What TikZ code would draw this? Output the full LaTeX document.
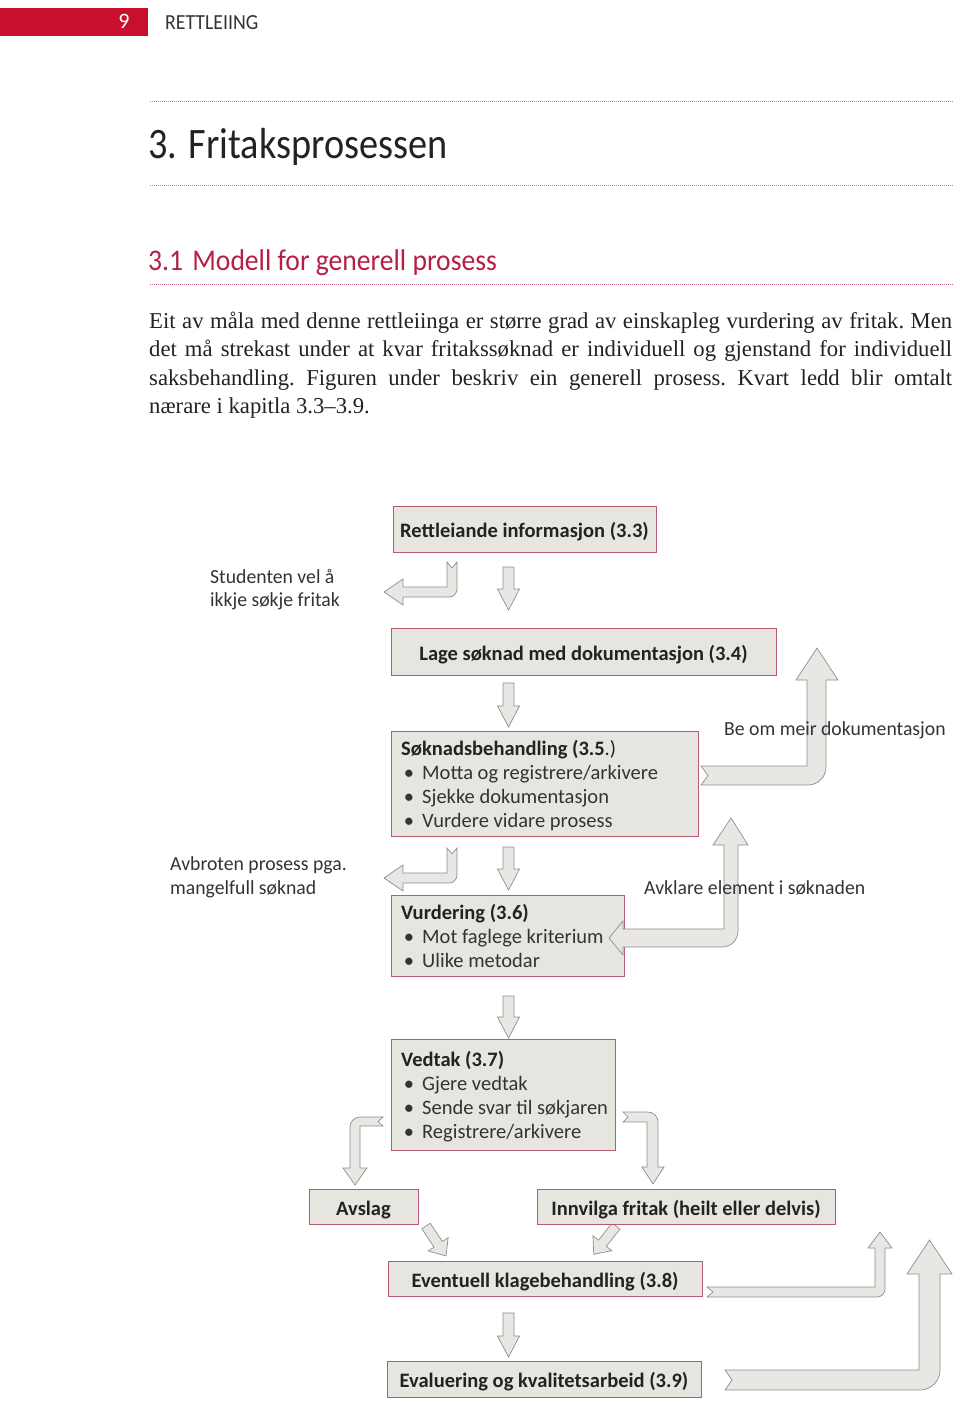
\documentclass[tikz,border=0pt]{standalone}
\usepackage{fontspec}
\setmainfont{Liberation Serif}
\newfontfamily\dfont{Carlito}
\newfontfamily\lfont[FakeStretch=0.985]{Carlito}
\newfontfamily\titlefont[FakeStretch=0.88]{Carlito}
\newfontfamily\headfont[FakeStretch=0.92]{Carlito}
\definecolor{hdrred}{HTML}{C8102E}
\definecolor{headred}{HTML}{B51F45}
\definecolor{boxline}{HTML}{B85B72}
\definecolor{boxfill}{HTML}{E7E5E0}
\definecolor{arrfill}{HTML}{E8E7E3}
\definecolor{arrline}{HTML}{8E8E8E}
\definecolor{txt}{HTML}{222222}
\definecolor{ltxt}{HTML}{333333}
\tikzset{
  box/.style={draw=boxline, fill=boxfill, line width=0.9pt, inner sep=0pt,
    text height=18pt, text depth=1pt,
    text=txt, font=\dfont\bfseries\fontsize{20.5}{24}\selectfont},
  btitle/.style={anchor=base west, inner sep=0pt, text=txt, font=\dfont\bfseries\fontsize{20.5}{24}\selectfont},
  bitem/.style={anchor=base west, inner sep=0pt, text=ltxt, font=\dfont\fontsize{20.5}{24}\selectfont},
  lbl/.style={anchor=base west, inner sep=0pt, text=ltxt, font=\lfont\fontsize{20}{24}\selectfont},
  para/.style={anchor=base west, inner sep=0pt, text=txt, font=\frenchspacing\fontsize{22.7}{28}\selectfont},
  blockarrow/.style={fill=arrfill, draw=arrline, line width=0.7pt, line join=miter},
  dotline/.style={line width=0.8pt, dash pattern=on 0.8pt off 1.2pt}
}
\newcommand\dnarrow[3]{%
  \draw[blockarrow] ({#1-5.5},#2) -- ({#1+5.5},#2) -- ({#1+5.5},{#3-21}) -- ({#1+11},{#3-21})
    -- (#1,#3) -- ({#1-11},{#3-21}) -- ({#1-5.5},{#3-21}) -- cycle;}
\newcommand\bentleft[1]{%
  \draw[blockarrow] (447,#1) -- (452,{#1+6}) -- (457,#1) -- (457,{#1+27})
    .. controls (457,{#1+31.4}) and (453.4,{#1+35}) .. (449,{#1+35})
    -- (403,{#1+35}) -- (403,{#1+43}) -- (384,{#1+30}) -- (403,{#1+17}) -- (403,{#1+25})
    -- (447,{#1+25}) -- cycle;}
\newcommand\itm[3]{\node[bitem] (#1) at (422,#2) {\llap{•\hspace{8pt}}#3};}
\begin{document}
\begin{tikzpicture}[x=1pt,y=-1pt]
\useasboundingbox (0,0) rectangle (960,1404);
% header
\fill[hdrred] (0,8) rectangle (148,36);
\node[text=white, font=\dfont\fontsize{22}{24}\selectfont, inner sep=0pt] (pnum) at (124,21) {9};
\node[anchor=base west, inner sep=0pt, text=ltxt, font=\headfont\fontsize{21.5}{24}\selectfont] (run) at (165,30) {RETTLEIING};
\draw[dotline, gray!80] (150,101) -- (953,101);
\node[anchor=base west, inner sep=0pt, text=txt, font=\titlefont\fontsize{43.5}{48}\selectfont] (title) at (148,159) {3. Fritaksprosessen};
\draw[dotline, gray!80] (150,185) -- (953,185);
\node[anchor=base west, inner sep=0pt, text=headred, font=\headfont\fontsize{30}{34}\selectfont] (sec) at (148,271) {3.1\hspace{3pt} Modell for generell prosess};
\draw[dotline, headred!70] (150,284) -- (953,284);
% paragraph
\node[para] (p1) at (149,328) {\makebox[803pt][s]{Eit av måla med denne rettleiinga er større grad av einskapleg vurdering av fritak. Men}};
\node[para] (p2) at (149,356.5) {\makebox[803pt][s]{det må strekast under at kvar fritakssøknad er individuell og gjenstand for individuell}};
\node[para] (p3) at (149,385) {\makebox[803pt][s]{saksbehandling. Figuren under beskriv ein generell prosess. Kvart ledd blir omtalt}};
\node[para] (p4) at (149,413.5) {nærare i kapitla 3.3–3.9.};
% arrows (drawn first)
\dnarrow{508.5}{567}{610}
\dnarrow{508.5}{683}{727}
\dnarrow{508.5}{847}{890}
\dnarrow{508.5}{996}{1038}
\dnarrow{508.5}{1313}{1357}
\bentleft{562}
\bentleft{848}
% Be om meir dokumentasjon
\draw[blockarrow] (701,766) -- (807,766) -- (807,680) -- (796,680) -- (817,648) -- (838,680) -- (826,680)
  -- (826,767) .. controls (826,777) and (818,785) .. (808,785) -- (701,785) -- (708,775.5) -- cycle;
% Vedtak left
\draw[blockarrow] (383,1117) -- (360,1117) .. controls (354.5,1117) and (350,1121.5) .. (350,1127)
  -- (350,1168) -- (343,1168) -- (355,1185) -- (367,1168) -- (360,1168) -- (360,1126) -- (383,1126)
  -- (378,1121.5) -- cycle;
% Vedtak right
\draw[blockarrow] (623,1112) -- (648,1112) .. controls (653.5,1112) and (658,1116.5) .. (658,1122)
  -- (658,1167) -- (664,1167) -- (653,1184) -- (642,1167) -- (647,1167) -- (647,1122) -- (623,1122)
  -- (628,1117) -- cycle;
% diagonal arrows
\begin{scope}[shift={(426,1226)}, rotate=33.7]
\draw[blockarrow] (-5,0) -- (5,0) -- (5,22) -- (12,22) -- (0,36) -- (-12,22) -- (-5,22) -- cycle;
\end{scope}
\begin{scope}[shift={(616,1226)}, rotate=-38.2]
\draw[blockarrow] (-5,0) -- (5,0) -- (5,22) -- (12,22) -- (0,36) -- (-12,22) -- (-5,22) -- cycle;
\end{scope}
% bottom right arrows
\draw[blockarrow] (707,1287) -- (875,1287) -- (875,1248) -- (868,1248) -- (880,1232) -- (892,1248) -- (885,1248)
  -- (885,1289) .. controls (885,1293.4) and (881.4,1297) .. (877,1297) -- (707,1297) -- (713,1292) -- cycle;
\draw[blockarrow] (725,1370) -- (919,1370) -- (919,1274) -- (907,1274) -- (929.5,1240) -- (952,1274) -- (940,1274)
  -- (940,1370) .. controls (940,1381) and (931,1390) .. (920,1390) -- (725,1390) -- (732,1380) -- cycle;
% boxes
\node[box, minimum width=263pt, minimum height=46pt] (b1) at (524.5,529) {Rettleiande informasjon (3.3)};
\node[box, minimum width=385pt, minimum height=47pt] (b2) at (583.5,651.5) {Lage søknad med dokumentasjon (3.4)};
\node[box, minimum width=307pt, minimum height=105pt] (b3) at (544.5,783.5) {};
\node[btitle] (b3t) at (401,755) {Søknadsbehandling (3.5\mdseries.)};
\itm{b3a}{779}{Motta og registrere/arkivere}
\itm{b3b}{803}{Sjekke dokumentasjon}
\itm{b3c}{827}{Vurdere vidare prosess}
\node[box, minimum width=233pt, minimum height=81pt] (b4) at (507.5,935.5) {};
\node[btitle] (b4t) at (401,919) {Vurdering (3.6)};
\itm{b4a}{943}{Mot faglege kriterium}
\itm{b4b}{967}{Ulike metodar}
\node[box, minimum width=224pt, minimum height=111pt] (b5) at (503,1094.5) {};
\node[btitle] (b5t) at (401,1066) {Vedtak (3.7)};
\itm{b5a}{1090}{Gjere vedtak}
\itm{b5b}{1114}{Sende svar til søkjaren}
\itm{b5c}{1138}{Registrere/arkivere}
\node[box, minimum width=109pt, minimum height=35pt] (b6) at (363.5,1206.5) {Avslag};
\node[box, minimum width=298pt, minimum height=35pt] (b7) at (686,1206.5) {Innvilga fritak (heilt eller delvis)};
\node[box, minimum width=314pt, minimum height=35pt] (b8) at (545,1278.5) {Eventuell klagebehandling (3.8)};
\node[box, minimum width=314pt, minimum height=36pt] (b9) at (544,1379) {Evaluering og kvalitetsarbeid (3.9)};
% Avklare element (head overlaps box b4)
\draw[blockarrow] (731,818) -- (748,845) -- (738,845) -- (738,931)
  .. controls (738,940) and (731,947) .. (722,947) -- (623,947) -- (623,955) -- (609,938)
  -- (623,921) -- (623,929) -- (724,929) -- (724,845) -- (713,845) -- cycle;
% side labels
\node[lbl] (l1a) at (210,583) {Studenten vel å};
\node[lbl] (l1b) at (210,606) {ikkje søkje fritak};
\node[lbl] (l2a) at (170,870) {Avbroten prosess pga.};
\node[lbl] (l2b) at (170,894) {mangelfull søknad};
\node[lbl] (l3) at (724,735) {Be om meir dokumentasjon};
\node[lbl] (l4) at (644,894) {Avklare element i søknaden};
\end{tikzpicture}
\end{document}
